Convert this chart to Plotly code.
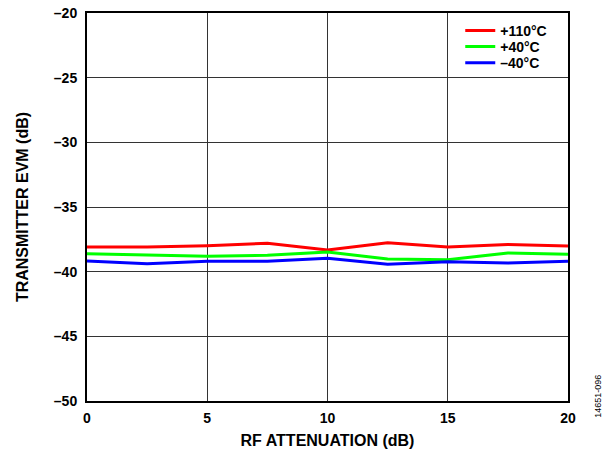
import plotly.graph_objects as go

atten = [0, 2.5, 5, 7.5, 10, 12.5, 15, 17.5, 20]
evm_110 = [-38.09, -38.09, -37.99, -37.81, -38.33, -37.76, -38.09, -37.89, -38.02]
evm_40 = [-38.61, -38.71, -38.81, -38.74, -38.48, -39.02, -39.07, -38.56, -38.66]
evm_m40 = [-39.17, -39.38, -39.20, -39.20, -38.97, -39.43, -39.23, -39.33, -39.20]

series_names = ["+110°C", "+40°C", "–40°C"]
series_colors = ["#ff0000", "#00ff00", "#0000ff"]
x_ticks = [0, 5, 10, 15, 20]
x_tick_text = ["0", "5", "10", "15", "20"]
y_ticks = [-50, -45, -40, -35, -30, -25, -20]
y_tick_text = ["–50", "–45", "–40", "–35", "–30", "–25", "–20"]

font = "Liberation Sans, Arial, sans-serif"

legend_ids = ["legend", "legend2", "legend3"]
legend_rows = [0.9536, 0.9124, 0.871]

fig = go.Figure()
for name, vals, col, lg in zip(series_names, [evm_110, evm_40, evm_m40], series_colors, legend_ids):
    fig.add_trace(go.Scatter(x=atten, y=vals, mode="lines", name=name, legend=lg,
                             line=dict(color=col, width=3)))

legend_common = dict(x=0.776, xanchor="left", yanchor="middle",
                     bgcolor="rgba(0,0,0,0)", borderwidth=0,
                     font=dict(family=font, size=14, color="black", weight="bold"),
                     itemwidth=30)

fig.update_layout(
    width=615, height=451,
    margin=dict(l=87, r=47, t=13, b=50, autoexpand=False),
    paper_bgcolor="white", plot_bgcolor="white",
    font=dict(family=font, size=14, color="black"),
    showlegend=True,
    legend=dict(y=legend_rows[0], **legend_common),
    legend2=dict(y=legend_rows[1], **legend_common),
    legend3=dict(y=legend_rows[2], **legend_common),
    xaxis=dict(range=[0, 20], tickvals=x_ticks, ticktext=x_tick_text,
               showgrid=True, gridcolor="#333333", gridwidth=1,
               showline=True, linecolor="black", linewidth=2, mirror=True,
               ticks="", zeroline=False, automargin=False, ticklabelstandoff=3,
               tickfont=dict(family=font, size=14, weight="bold"),
               title=dict(text="RF ATTENUATION (dB)", standoff=10,
                          font=dict(family=font, size=16, weight="bold"))),
    yaxis=dict(range=[-50, -20], tickvals=y_ticks, ticktext=y_tick_text,
               showgrid=True, gridcolor="#333333", gridwidth=1,
               showline=True, linecolor="black", linewidth=2, mirror=True,
               ticks="", zeroline=False, automargin=False, ticklabelstandoff=5,
               tickfont=dict(family=font, size=14, weight="bold"),
               title=dict(text="TRANSMITTER EVM (dB)", standoff=21,
                          font=dict(family=font, size=16, weight="bold"))),
)

# white legend background hiding the grid behind the legend
fig.add_shape(type="rect", xref="paper", yref="paper",
              x0=0.7526, x1=1.0, y0=0.83, y1=1.0,
              fillcolor="white", line=dict(width=0), layer="between")

fig.add_annotation(text="14651-096", xref="paper", yref="paper",
                   x=1.062, y=0.013, xanchor="center", yanchor="middle",
                   textangle=-90, showarrow=False,
                   font=dict(family=font, size=9, color="black"))

fig.write_html("out.html", config={"displayModeBar": False},
               post_script="document.body.style.margin='0';")
